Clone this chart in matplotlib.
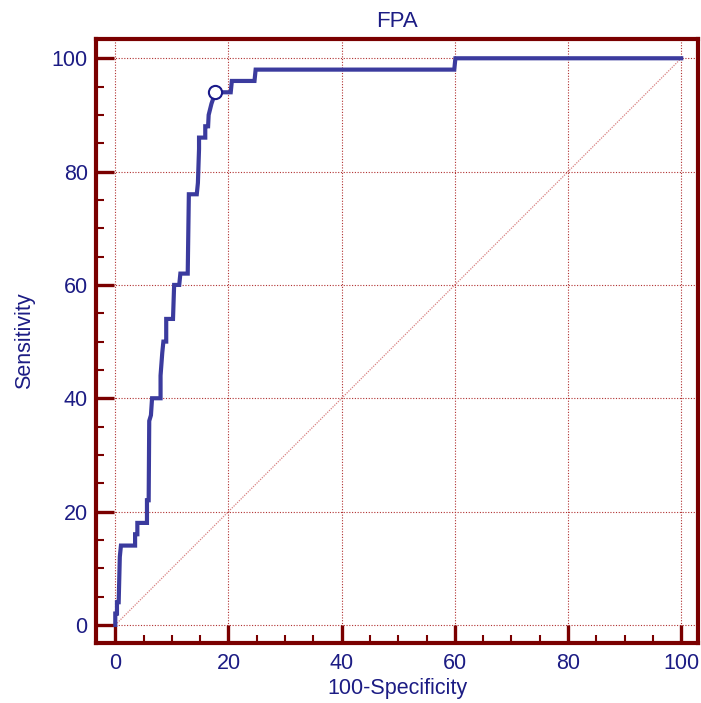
import numpy as np
import matplotlib
matplotlib.use("Agg")
import matplotlib.pyplot as plt
from matplotlib.ticker import MultipleLocator

plt.rcParams['font.family'] = ['Liberation Sans', 'DejaVu Sans']

# ROC curve vertices for FPA (100-Specificity, Sensitivity)
fpr = [0, 0, 0.3, 0.3, 0.6, 0.8, 1.0, 3.5, 3.5, 3.9, 3.9, 5.6, 5.6, 5.9, 6.0, 6.3, 6.5,
       8.0, 8.0, 8.3, 8.5, 9.0, 9.0, 10.2, 10.4, 11.3, 11.5, 12.8, 13.0, 14.4, 14.6,
       14.8, 14.8, 15.9, 15.9, 16.4, 16.5, 17.0, 17.7, 20.4, 20.6, 24.6, 24.8, 59.9,
       60.1, 100]
sens = [0, 2, 2, 4, 4, 12, 14, 14, 16, 16, 18, 18, 22, 22, 36, 37, 40,
        40, 44, 48, 50, 50, 54, 54, 60, 60, 62, 62, 76, 76, 78,
        84, 86, 86, 88, 88, 90, 92, 94, 94, 96, 96, 98, 98,
        100, 100]

# optimal cut-off point
cut_fpr = 17.7
cut_sens = 94

frame_col = '#7a0000'
line_col = '#3b3b9e'
text_col = '#1c1c84'

fig = plt.figure(figsize=(7.01, 7.03), dpi=100)
ax = fig.add_axes([0.137, 0.0853, 0.859, 0.8592])

ax.set_xlim(-3.4, 103.0)
ax.set_ylim(-3.2, 103.4)

# grid at major positions
for v in range(0, 101, 20):
    ax.axvline(v, color='#b03030', lw=0.8, ls=(0, (1, 1.5)), zorder=1)
    ax.axhline(v, color='#b03030', lw=0.8, ls=(0, (1, 1.5)), zorder=1)

# reference diagonal
ax.plot([0, 100], [0, 100], color='#d88080', lw=0.9, ls=(0, (1, 1)), zorder=1)

ax.plot(fpr, sens, color=line_col, lw=3.0, solid_joinstyle='miter', zorder=3)
ax.plot([cut_fpr], [cut_sens], marker='o', ms=9.5, mfc='white', mec='#1a1a8a',
        mew=1.5, zorder=4)

for side in ['left', 'right', 'top', 'bottom']:
    ax.spines[side].set_color(frame_col)
    ax.spines[side].set_linewidth(3)

ax.xaxis.set_major_locator(MultipleLocator(20))
ax.yaxis.set_major_locator(MultipleLocator(20))
ax.xaxis.set_minor_locator(MultipleLocator(5))
ax.yaxis.set_minor_locator(MultipleLocator(5))
ax.tick_params(which='major', direction='in', length=13, width=2.4, color=frame_col,
               labelsize=15.5, labelcolor=text_col, pad=6)
ax.tick_params(which='minor', direction='in', length=6, width=1.5, color=frame_col)
ax.tick_params(axis='x', which='major', pad=7)

ax.set_title('FPA', fontsize=16, color=text_col, pad=9)
ax.set_xlabel('100-Specificity', fontsize=15.5, color=text_col, labelpad=3)
ax.set_ylabel('Sensitivity', fontsize=15.5, color=text_col, labelpad=12)

fig.savefig('out.png', dpi=100)
